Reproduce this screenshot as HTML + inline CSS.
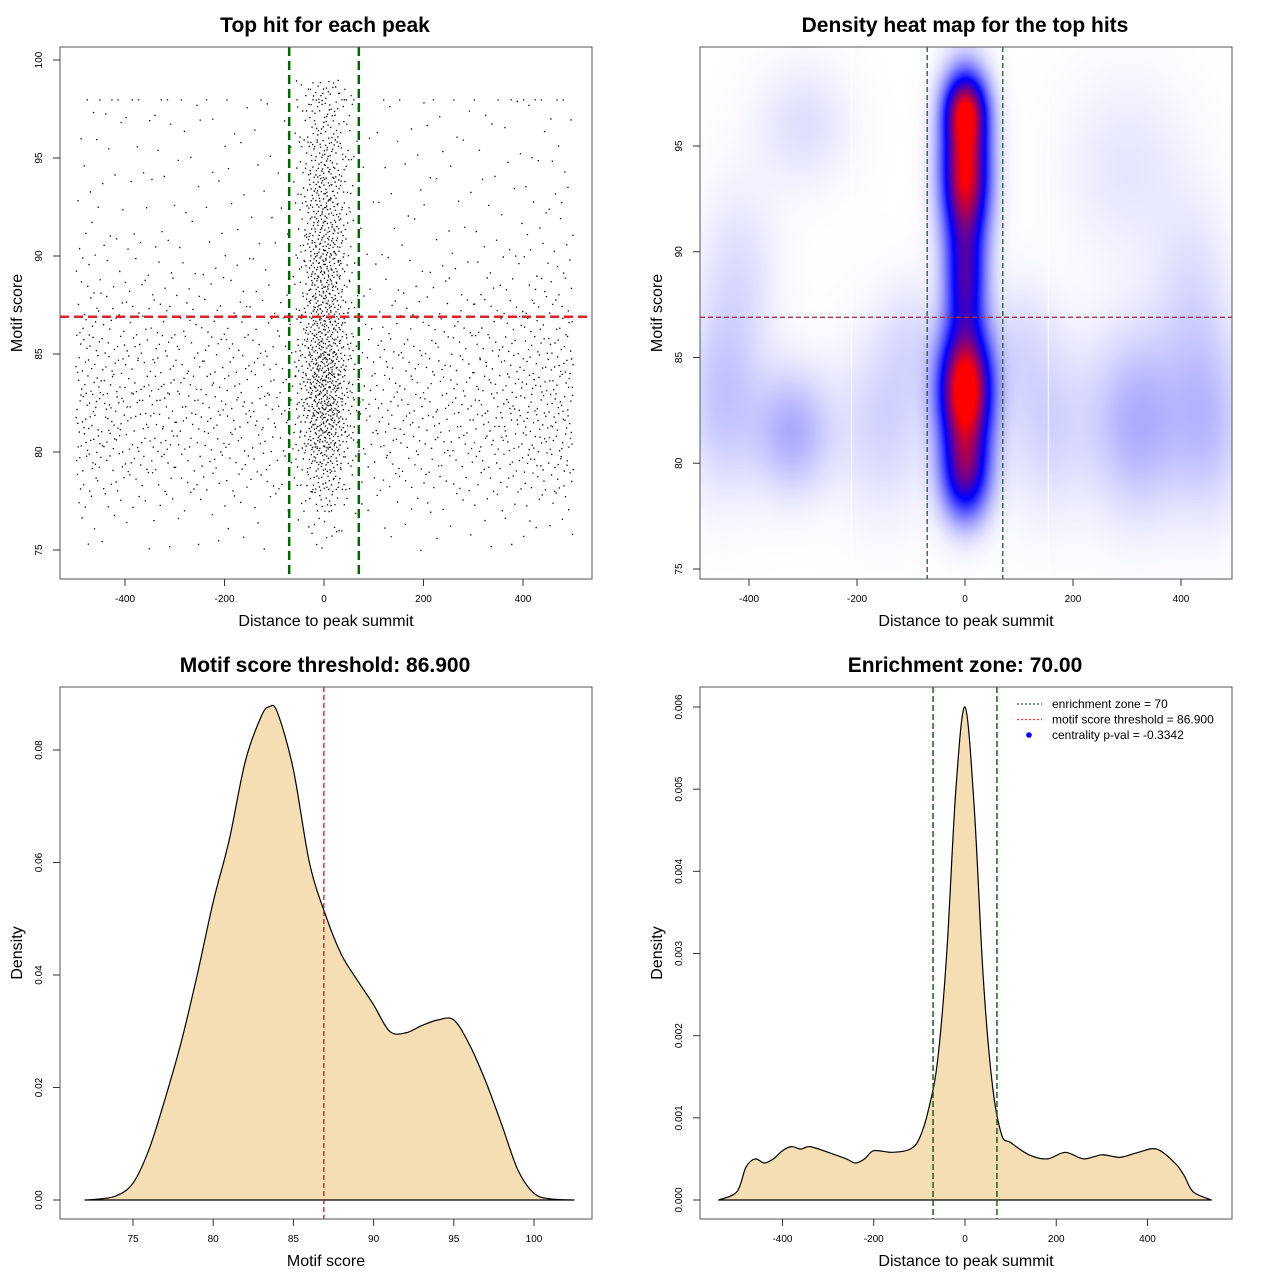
<!DOCTYPE html>
<html><head><meta charset="utf-8"><style>
html,body{margin:0;padding:0;background:#fff;}
#wrap{position:relative;width:1280px;height:1280px;overflow:hidden;font-family:"Liberation Sans",sans-serif;}
#heat{position:absolute;left:700px;top:47px;}
#svg{position:absolute;left:0;top:0;}
</style></head><body>
<div id="wrap">
<canvas id="heat" width="532" height="532"></canvas>
<svg id="svg" width="1280" height="1280" xmlns="http://www.w3.org/2000/svg"></svg>
</div>
<script>
// ---- Panel 1 scatter data (estimated counts) ----
const centerXBins = [-60,-50,-40,-30,-20,-10,0,10,20,30,40,50,60];
const centerXWeights = [3,6,10,16,20,22,22,20,16,10,6,3];
const scoreBands = [75,76,77,78,79,80,81,82,83,84,85,86,87,88,89,90,91,92,93,94,95,96,97,98,99];
const centerBandCounts = [5,10,20,35,50,65,80,85,90,85,75,70,65,60,60,60,55,55,50,45,40,30,30,25];
const centerTotal = 1300;
const sideXBins = [-500,-450,-400,-350,-300,-250,-200,-150,-100,-50,0,50,100,150,200,250,300,350,400,450,500];
const sideXWeights = [8,7,6,6,5,5,5,5,4,2,2,4,5,5,5,5,6,7,8,9];
const sideBandCounts = [5,10,20,35,50,60,65,65,60,55,45,35,28,22,15,12,10,10,8,8,6,6,5,12];
const sideTotal = 1500;
// ---- Panel 2 heatmap kernels: [x, y, sdX, sdY, weight] ----
const heatX = [0,0,0,0,0,-320,320,-450,450,-150,150,-300,300,-420,420,-100,100];
const heatY = [83.5,93.8,88.5,79.5,96.8,81.5,82,83,82,82,82,96,94,89,88,86,86];
const heatSX = [32,29,25,30,26,50,60,50,50,60,60,60,80,50,50,40,40];
const heatSY = [2.0,2.5,1.7,1.5,1.1,2,3,3,3,3,3,2,3,3,3,2,2];
const heatW = [1.0,0.88,0.42,0.5,0.5,0.13,0.13,0.09,0.1,0.07,0.07,0.05,0.04,0.05,0.05,0.04,0.04];
// ---- Panel 3 density of motif score ----
const scoreX = [72,73,74,75,76,77,78,79,80,81,82,83,83.5,84,85,86,87,88,89,90,91,92,93,94,95,96,97,98,99,100,101,102.5];
const scoreDens = [0,0.0002,0.0008,0.003,0.009,0.018,0.028,0.040,0.053,0.064,0.078,0.086,0.0877,0.0867,0.0765,0.060,0.0507,0.0436,0.039,0.0347,0.030,0.0297,0.031,0.032,0.032,0.0275,0.021,0.0133,0.0053,0.0012,0.0002,0];
// ---- Panel 4 density of distance ----
const distX = [-540,-500,-480,-460,-440,-420,-400,-380,-360,-340,-300,-260,-240,-220,-200,-160,-120,-100,-80,-60,-40,-20,0,20,40,60,80,100,140,180,220,260,300,340,380,420,460,480,500,540];
const distDens = [0,0.0001,0.0004,0.0005,0.00045,0.0005,0.0006,0.00065,0.00062,0.00065,0.00058,0.0005,0.00045,0.0005,0.0006,0.00058,0.00062,0.00075,0.0011,0.0017,0.0030,0.0050,0.0060,0.0048,0.0027,0.0014,0.0008,0.0007,0.00055,0.0005,0.00058,0.0005,0.00055,0.00052,0.00058,0.00062,0.00045,0.0003,0.0001,0];
const p1XTicks=[-400,-200,0,200,400], p1YTicks=[75,80,85,90,95,100];
const p2XTicks=[-400,-200,0,200,400], p2YTicks=[75,80,85,90,95];
const p3XTicks=[75,80,85,90,95,100], p3YTicks=[0,0.02,0.04,0.06,0.08];
const p4XTicks=[-400,-200,0,200,400], p4YTicks=[0,0.001,0.002,0.003,0.004,0.005,0.006];

const NS="http://www.w3.org/2000/svg";
const svg=document.getElementById('svg');
function mk(tag,attrs,parent){const e=document.createElementNS(NS,tag);for(const k in attrs)e.setAttribute(k,attrs[k]);(parent||svg).appendChild(e);return e;}
function txt(s,x,y,size,opts,parent){const e=mk('text',Object.assign({x:x,y:y,'font-size':size,'text-anchor':'middle','font-family':'Liberation Sans, sans-serif'},opts||{}),parent);e.textContent=s;return e;}

const P=[
 {l:60,t:47,r:592,b:579,sx:v=>324+v*0.4975,sy:v=>60+(100-v)*19.6,xt:p1XTicks,yt:p1YTicks,fx:v=>String(v),fy:v=>String(v),title:'Top hit for each peak',xl:'Distance to peak summit',yl:'Motif score',cx:325},
 {l:700,t:47,r:1232,b:579,sx:v=>965+v*0.54,sy:v=>146+(95-v)*21.15,xt:p2XTicks,yt:p2YTicks,fx:v=>String(v),fy:v=>String(v),title:'Density heat map for the top hits',xl:'Distance to peak summit',yl:'Motif score',cx:965},
 {l:60,t:687,r:592,b:1219,sx:v=>133+(v-75)*16.04,sy:v=>1200-v*5625,xt:p3XTicks,yt:p3YTicks,fx:v=>String(v),fy:v=>v.toFixed(2),title:'Motif score threshold: 86.900',xl:'Motif score',yl:'Density',cx:325},
 {l:700,t:687,r:1232,b:1219,sx:v=>965+v*0.4563,sy:v=>1200-v*82167,xt:p4XTicks,yt:p4YTicks,fx:v=>String(v),fy:v=>v.toFixed(3),title:'Enrichment zone: 70.00',xl:'Distance to peak summit',yl:'Density',cx:965}
];

(function(){
 const c=document.getElementById('heat'),ctx=c.getContext('2d');
 const img=ctx.createImageData(532,532);const W=532;
 const vals=new Float32Array(W*W);let mx=0;
 const ix=v=>(v-965)/0.54, iy=v=>95-(v-146)/21.15;
 for(let j=0;j<W;j++){const y=iy(j+47);for(let i=0;i<W;i++){const x=ix(i+700);let s=0;
  for(let k=0;k<heatX.length;k++){const dx=(x-heatX[k])/heatSX[k],dy=(y-heatY[k])/heatSY[k];s+=heatW[k]*Math.exp(-0.5*(dx*dx+dy*dy));}
  vals[j*W+i]=s;if(s>mx)mx=s;}}
 for(let n=0;n<W*W;n++){let t=vals[n]/mx;let r,g,b;
  if(t<0.4){const u=t/0.4;r=255*(1-u);g=255*(1-u);b=255;}else{const u=Math.min(1,(t-0.4)/0.45);r=255*u;g=0;b=255*(1-u);}
  img.data[n*4]=r;img.data[n*4+1]=g;img.data[n*4+2]=b;img.data[n*4+3]=255;}
 ctx.putImageData(img,0,0);
 ctx.fillStyle='rgba(255,255,255,0.9)';ctx.fillRect(151,0,1,532);ctx.fillRect(348,0,1,532);
})();

function halton(i,b){let f=1,r=0;while(i>0){f/=b;r+=f*(i%b);i=Math.floor(i/b);}return r;}
function scatter(xb,xw,yc,total,name){
 const p=P[0];let d='';let idx=1;const sw=xw.reduce((a,b)=>a+b,0),sy=yc.reduce((a,b)=>a+b,0);
 for(let i=0;i<xw.length;i++)for(let j=0;j<yc.length;j++){const n=Math.round(total*xw[i]/sw*yc[j]/sy);
  for(let k=0;k<n;k++){const x=xb[i]+(xb[i+1]-xb[i])*halton(idx,2);const y=scoreBands[j]+(j==yc.length-1&&name=='side'?0:halton(idx,3));idx++;
   d+='M'+p.sx(x).toFixed(1)+' '+p.sy(y).toFixed(1)+'h1.3v1.3h-1.3z';}}
 const e=mk('path',{d:d,fill:'#000'});
 
 
}
scatter(sideXBins,sideXWeights,sideBandCounts,sideTotal,'side');
scatter(centerXBins,centerXWeights,centerBandCounts,centerTotal,'center');

function area(p,xs,ys,name){
 const pts=xs.map((x,i)=>[p.sx(x),p.sy(ys[i])]);
 let d='M'+pts[0][0].toFixed(1)+' '+pts[0][1].toFixed(1);
 for(let i=0;i<pts.length-1;i++){const p0=pts[Math.max(0,i-1)],p1=pts[i],p2=pts[i+1],p3=pts[Math.min(pts.length-1,i+2)];
  const c1=[p1[0]+(p2[0]-p0[0])/6,p1[1]+(p2[1]-p0[1])/6],c2=[p2[0]-(p3[0]-p1[0])/6,p2[1]-(p3[1]-p1[1])/6];
  d+=' C'+c1[0].toFixed(1)+' '+c1[1].toFixed(1)+' '+c2[0].toFixed(1)+' '+c2[1].toFixed(1)+' '+p2[0].toFixed(1)+' '+p2[1].toFixed(1);}
 d+='Z';
 const e=mk('path',{d:d,fill:'#F5DEB3',stroke:'#000','stroke-width':1.2,'stroke-linejoin':'round'});
 
 }
area(P[2],scoreX,scoreDens,'score-density-curve');
area(P[3],distX,distDens,'distance-density-curve');

function vline(p,v,col,w,dash,name){const e=mk('line',{x1:p.sx(v),x2:p.sx(v),y1:p.t,y2:p.b,stroke:col,'stroke-width':w,'stroke-dasharray':dash});
 
 }
function hline(p,v,col,w,dash,name){const e=mk('line',{x1:p.l,x2:p.r,y1:p.sy(v),y2:p.sy(v),stroke:col,'stroke-width':w,'stroke-dasharray':dash});
 
 }
vline(P[0],-70,'#006400',2.5,'9,5','zone-line-left');
vline(P[0],70,'#006400',2.5,'9,5','zone-line-right');
hline(P[0],86.9,'#d62728',2.5,'9,5','threshold-line');
vline(P[1],-70,'#1f5f1f',1.3,'5,3','zone-line-left');
vline(P[1],70,'#1f5f1f',1.3,'5,3','zone-line-right');
hline(P[1],86.9,'#b03040',1.3,'5,3','threshold-line');
vline(P[2],86.9,'#b02020',1.3,'5,3','threshold-line');
vline(P[3],-70,'#1f5f1f',1.5,'6,3','zone-line-left');
vline(P[3],70,'#1f5f1f',1.5,'6,3','zone-line-right');

P.forEach((p,pi)=>{
 const g=mk('g',{});
 
 
 const box=mk('rect',{x:p.l,y:p.t,width:p.r-p.l,height:p.b-p.t,fill:'none',stroke:'#555','stroke-width':1},g);
 
 
 p.xt.forEach(v=>{const x=p.sx(v);mk('line',{x1:x,x2:x,y1:p.b,y2:p.b+7,stroke:'#333'},g);
  const t=txt(p.fx(v),x,p.b+23,10,{},g);
  
  });
 p.yt.forEach(v=>{const y=p.sy(v);mk('line',{x1:p.l,x2:p.l-7,y1:y,y2:y,stroke:'#333'},g);
  const t=txt(p.fy(v),p.l-18,y,10,{transform:'rotate(-90 '+(p.l-18)+' '+y+')'},g);
  
  });
 const ti=txt(p.title,p.cx,p.t-15,21,{'font-weight':'bold'},g);
 
 
 const xl=txt(p.xl,(p.l+p.r)/2,p.b+47,16,{},g);
 
 
 const yx=p.l-38,yy=(p.t+p.b)/2;
 const yl=txt(p.yl,yx,yy,16,{transform:'rotate(-90 '+yx+' '+yy+')'},g);
 
 
});

const lg=mk('g',{});


const legLabels=['enrichment zone = 70','motif score threshold = 86.900','centrality p-val = -0.3342'];
const legCols=['#1f5f1f','#ff3030','#0000ff'];
legLabels.forEach((s,i)=>{const y=704+i*15.5;
 if(i<2){const l=mk('line',{x1:1017,x2:1042,y1:y,y2:y,stroke:legCols[i],'stroke-width':1.3,'stroke-dasharray':'2,2'},lg);
  
  }
 else{const c=mk('circle',{cx:1029,cy:y,r:2.8,fill:legCols[i]},lg);
  
  }
 const t=txt(s,1052,y+4,12,{'text-anchor':'start'},lg);
 
 
});
</script>
</body></html>
